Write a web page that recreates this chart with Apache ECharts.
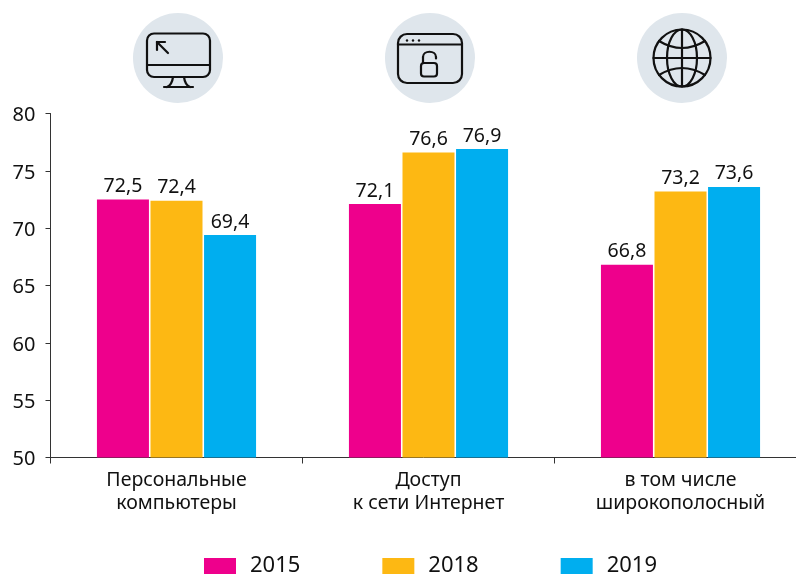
<!DOCTYPE html>
<html><head><meta charset="utf-8">
<style>html,body{margin:0;padding:0;background:#fff}#c{width:796px;height:575px}</style>
<script src="https://cdn.jsdelivr.net/npm/echarts@6/dist/echarts.min.js"></script>
</head><body><div id="c"></div>
<script>
const categories = ['Персональные\nкомпьютеры', 'Доступ\nк сети Интернет', 'в том числе\nширокополосный'];
const years = ['2015', '2018', '2019'];
const values2015 = [72.5, 72.1, 66.8];
const values2018 = [72.4, 76.6, 73.2];
const values2019 = [69.4, 76.9, 73.6];
const colors = ['#ee008c', '#fdb813', '#00aeef'];
const tickMin = 50, tickMax = 80, tickStep = 5;
const fontFamily = '"Noto Sans", sans-serif';
const ink = '#111';
const iconLine = {fill: 'none', stroke: '#111', lineWidth: 2.2, lineCap: 'round', lineJoin: 'round'};
const badge = (x) => ({type: 'circle', shape: {cx: x, cy: 58, r: 45}, style: {fill: '#dfe6ec'}});
const ln = (x1, y1, x2, y2) => ({type: 'line', shape: {x1, y1, x2, y2}, style: iconLine});
const rr = (x, y, width, height, r) => ({type: 'rect', shape: {x, y, width, height, r}, style: iconLine});
const bz = (x1, y1, cpx1, cpy1, x2, y2) => ({type: 'bezierCurve', shape: {x1, y1, cpx1, cpy1, x2, y2}, style: iconLine});
const cb = (x1, y1, cpx1, cpy1, cpx2, cpy2, x2, y2) => ({type: 'bezierCurve', shape: {x1, y1, cpx1, cpy1, cpx2, cpy2, x2, y2}, style: iconLine});
const dot = (cx, cy) => ({type: 'circle', shape: {cx, cy, r: 1.2}, style: {fill: '#111'}});

const icons = [
  badge(178), badge(430), badge(682),
  // monitor
  rr(147, 33.5, 63, 43.5, 7), ln(147, 65, 210, 65),
  ln(157, 42, 168, 53), ln(157, 42, 157, 50), ln(157, 42, 165, 42),
  bz(173, 77, 172, 85, 167, 87), bz(184, 77, 185, 85, 190, 87), ln(164, 87, 193, 87),
  // browser + lock
  rr(398, 34, 64, 49, 9), ln(398, 44.5, 462, 44.5),
  dot(407, 40.5), dot(413, 40.5), dot(419, 40.5),
  rr(421, 63, 16, 13.5, 3),
  ln(423, 63, 423, 57), cb(423, 57, 423, 50, 436, 50, 436, 57), ln(436, 57, 436, 58.5),
  // globe
  {type: 'circle', shape: {cx: 682, cy: 58, r: 28.5}, style: iconLine},
  {type: 'ellipse', shape: {cx: 682, cy: 58, rx: 15, ry: 28.5}, style: iconLine},
  ln(682, 29.5, 682, 86.5), ln(653.5, 58, 710.5, 58),
  bz(659, 41, 682, 55, 705, 41), bz(659, 75, 682, 61, 705, 75)
];

const seriesValues = [values2015, values2018, values2019];
const chart = echarts.init(document.getElementById('c'), null, {renderer: 'canvas'});
chart.setOption({
  animation: false,
  backgroundColor: '#fff',
  textStyle: {fontFamily},
  color: colors,
  grid: {left: 50.5, width: 756, top: 113.5, height: 344, containLabel: false, outerBoundsMode: 'none'},
  legend: {
    data: years, left: 199, top: 550, selectedMode: false,
    itemWidth: 32, itemHeight: 16, itemGap: 82, icon: 'rect',
    textStyle: {fontFamily, fontSize: 22, color: ink, padding: [0, 0, 0, 9]}
  },
  xAxis: {
    type: 'category', data: categories,
    axisLine: {lineStyle: {color: '#333', width: 1}},
    axisTick: {show: true, length: 6, alignWithLabel: false, lineStyle: {color: '#333'}},
    axisLabel: {fontFamily, fontSize: 19.5, color: ink, lineHeight: 23, margin: 11.5, interval: 0}
  },
  yAxis: {
    type: 'value', min: tickMin, max: tickMax, interval: tickStep,
    splitLine: {show: false},
    axisLine: {show: true, lineStyle: {color: '#333', width: 1}},
    axisTick: {show: true, length: 5, lineStyle: {color: '#333'}},
    axisLabel: {fontFamily, fontSize: 20, color: ink, margin: 15, verticalAlign: 'top', lineHeight: 4}
  },
  series: years.map((name, i) => ({
    name, type: 'bar', data: seriesValues[i], barWidth: 52, barGap: '3%',
    label: {
      show: true, position: 'top', distance: 3, fontFamily, fontSize: 19.5, color: ink,
      formatter: (p) => p.value.toFixed(1).replace('.', ',')
    }
  })),
  graphic: {elements: icons}
});
</script></body></html>
